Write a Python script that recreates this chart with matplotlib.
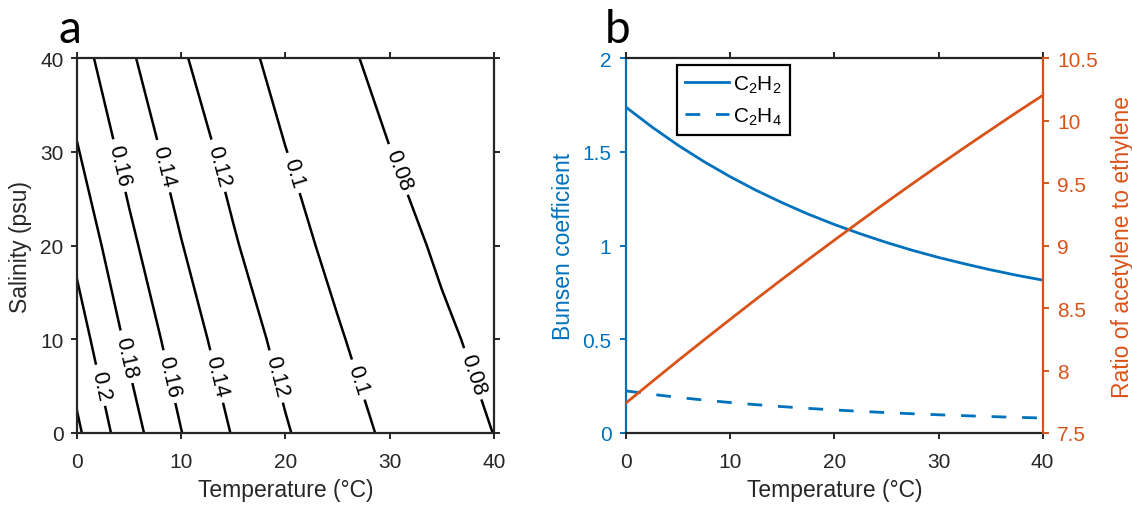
import numpy as np
import matplotlib.pyplot as plt
from matplotlib.ticker import FormatStrFormatter

# ---- panel a: ethylene Bunsen coefficient over temperature / salinity ----
temps = [0, 5, 10, 15, 20, 25, 30, 35, 40]          # degC
salts = [0, 10, 20, 30, 40]                          # psu
c2h4_grid = [
    [0.2237, 0.1886, 0.1605, 0.1389, 0.1216, 0.1082, 0.0970, 0.0880, 0.0798],
    [0.2092, 0.1763, 0.1506, 0.1305, 0.1145, 0.1016, 0.0916, 0.0827, 0.0756],
    [0.1953, 0.1646, 0.1408, 0.1219, 0.1064, 0.0956, 0.0860, 0.0777, 0.0710],
    [0.1816, 0.1537, 0.1316, 0.1142, 0.1004, 0.0898, 0.0803, 0.0730, 0.0664],
    [0.1691, 0.1431, 0.1223, 0.1066, 0.0941, 0.0837, 0.0752, 0.0680, 0.0616],
]
contour_levels = [0.08, 0.1, 0.12, 0.14, 0.16, 0.18, 0.2, 0.22]
labelled_levels = [0.08, 0.1, 0.12, 0.14, 0.16, 0.18, 0.2]
label_spots = [(3.5, 28.4), (8.0, 28.4), (13.1, 28.4), (20.3, 27.6), (30.5, 28.0),
               (1.9, 5.0), (4.6, 8.1), (8.8, 6.0), (13.3, 6.0), (19.0, 6.0),
               (26.7, 5.6), (37.9, 6.3)]

# ---- panel b: fresh water curves ----
temp_b = [0, 2.5, 5, 7.5, 10, 12.5, 15, 17.5, 20, 22.5, 25, 27.5, 30, 32.5, 35, 37.5, 40]
bunsen_c2h2 = [1.739, 1.633, 1.536, 1.448, 1.368, 1.295, 1.229, 1.168, 1.113,
               1.063, 1.017, 0.975, 0.937, 0.903, 0.871, 0.842, 0.816]
bunsen_c2h4 = [0.2247, 0.2064, 0.1901, 0.1756, 0.1627, 0.1511, 0.1407, 0.1314, 0.1231,
               0.1156, 0.1088, 0.1027, 0.0972, 0.0923, 0.0877, 0.0836, 0.0800]
ratio = [7.740, 7.911, 8.080, 8.246, 8.410, 8.572, 8.732, 8.889, 9.044,
         9.197, 9.348, 9.496, 9.642, 9.786, 9.927, 10.067, 10.203]

blue = '#0072BD'
orange = '#D95319'
dark = '#262626'

plt.rcParams['font.family'] = ['Liberation Sans', 'DejaVu Sans']
plt.rcParams['mathtext.fontset'] = 'custom'
plt.rcParams['mathtext.rm'] = 'Liberation Sans'
plt.rcParams['mathtext.it'] = 'Liberation Sans:italic'

fig = plt.figure(figsize=(11.32, 5.06), dpi=100)
axa = fig.add_axes([0.0678, 0.1423, 0.3686, 0.7405])
axb = fig.add_axes([0.553, 0.1423, 0.3681, 0.7405])

# panel a (contoured in log space so lines stay straight between grid nodes)
log_grid = np.log(np.array(c2h4_grid))
cs = axa.contour(temps, salts, log_grid, levels=np.log(contour_levels),
                 colors='k', linewidths=1.8, linestyles='solid')
axa.clabel(cs, levels=np.log(labelled_levels), fmt=lambda v: '%g' % round(np.exp(v), 3),
           fontsize=15.5, manual=label_spots, inline=True, inline_spacing=6)
axa.set_xlim(0, 40)
axa.set_ylim(0, 40)
axa.set_xticks([0, 10, 20, 30, 40])
axa.set_yticks([0, 10, 20, 30, 40])
axa.tick_params(direction='out', length=4.5, width=1.4, top=True, right=True,
                labelsize=15, colors=dark)
axa.tick_params(axis='x', pad=9)
axa.tick_params(axis='y', pad=5)
for sp in axa.spines.values():
    sp.set_linewidth(1.6)
    sp.set_color(dark)
axa.set_xlabel('Temperature (°C)', fontsize=16.5, color=dark, labelpad=5)
axa.set_ylabel('Salinity (psu)', fontsize=16.5, color=dark, labelpad=6)

# panel b
axb.plot(temp_b, bunsen_c2h2, color=blue, lw=2, label='C$_2$H$_2$')
axb.plot(temp_b, bunsen_c2h4, color=blue, lw=2, ls='--', dashes=(5.3, 5.7),
         label='C$_2$H$_4$')
axb.set_xlim(0, 40)
axb.set_ylim(0, 2)
axb.set_xticks([0, 10, 20, 30, 40])
axb.set_yticks([0, 0.5, 1, 1.5, 2])
axb.yaxis.set_major_formatter(FormatStrFormatter('%g'))
axb.tick_params(direction='out', length=4.5, width=1.4, top=True,
                labelsize=15, colors=dark)
axb.tick_params(axis='x', pad=9)
axb.tick_params(axis='y', colors=blue, pad=6)
for name in ['top', 'bottom']:
    axb.spines[name].set_linewidth(1.6)
    axb.spines[name].set_color(dark)
axb.spines['left'].set_linewidth(1.6)
axb.spines['left'].set_color(blue)
axb.spines['right'].set_visible(False)
axb.set_xlabel('Temperature (°C)', fontsize=16.5, color=dark, labelpad=5)
axb.set_ylabel('Bunsen coefficient', fontsize=16.5, color=blue, labelpad=5)

ax2 = axb.twinx()
ax2.plot(temp_b, ratio, color=orange, lw=2)
ax2.set_ylim(7.5, 10.5)
ax2.set_yticks([7.5, 8, 8.5, 9, 9.5, 10, 10.5])
ax2.yaxis.set_major_formatter(FormatStrFormatter('%g'))
ax2.tick_params(direction='out', length=4.5, width=1.4, labelsize=15,
                colors=orange, pad=6)
for name in ['top', 'bottom', 'left']:
    ax2.spines[name].set_visible(False)
ax2.spines['right'].set_linewidth(1.6)
ax2.spines['right'].set_color(orange)
ax2.set_ylabel('Ratio of acetylene to ethylene', fontsize=16.5, color=orange,
               labelpad=9)

leg = axb.legend(loc='upper left', bbox_to_anchor=(0.122, 0.981), frameon=True,
                 fancybox=False, edgecolor='k', framealpha=1, fontsize=15,
                 handlelength=2.1, borderpad=0.4, labelspacing=0.5,
                 handletextpad=0.2, borderaxespad=0)
leg.get_frame().set_linewidth(1.6)

# panel letters
fig.text(0.0521, 0.9144, 'a', fontsize=33, family='Lato', va='baseline')
fig.text(0.5345, 0.9156, 'b', fontsize=33, family='Lato', va='baseline')

fig.savefig('out.png', dpi=100)
